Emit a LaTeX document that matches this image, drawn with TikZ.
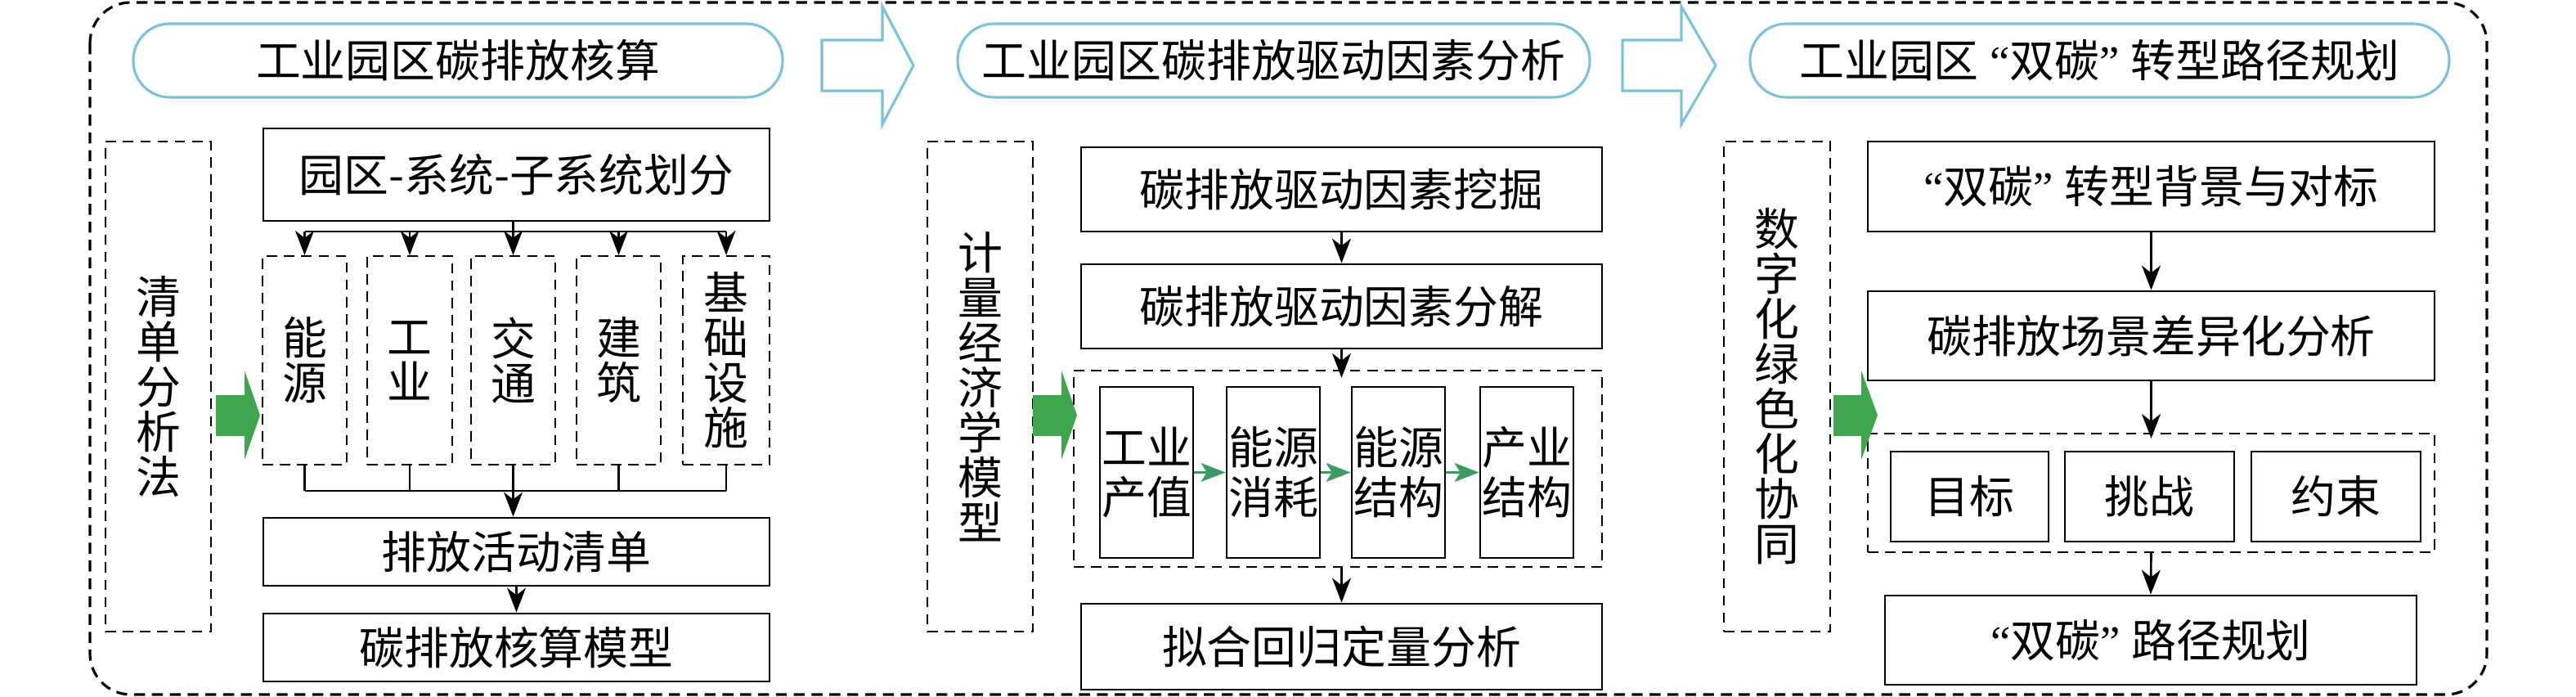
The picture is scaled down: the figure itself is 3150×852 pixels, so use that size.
\documentclass[tikz,border=0pt]{standalone}
\usepackage{fontspec}
\newfontfamily\cjk{Noto Sans CJK SC}
\newfontfamily\lat{Liberation Serif}
\usetikzlibrary{arrows.meta}
\definecolor{pillc}{HTML}{7BC3D9}
\definecolor{gbig}{HTML}{3FA64F}
\definecolor{gsmall}{HTML}{3C9B60}
\newcommand{\myLQ}{{\lat “}}
\newcommand{\myRQ}{{\lat ”\ }}
\begin{document}
\begin{tikzpicture}[x=0.01cm,y=-0.01cm,
 place/.style args={#1/#2/#3/#4}{at={({(#1+#3)/2},{(#2+#4)/2})}, minimum width={(#3-#1)*0.01cm}, minimum height={(#4-#2)*0.01cm}},
 txt/.style={font=\cjk\fontsize{15.6pt}{15.65pt}\selectfont, inner sep=0pt, align=center, text=black},
 two/.style={font=\cjk\fontsize{15.6pt}{17.4pt}\selectfont},
 sbox/.style={txt, draw, line width=0.8pt},
 dbox/.style={txt, draw, line width=0.6pt, dash pattern=on 3.6pt off 2.4pt},
 pill/.style={txt, draw=pillc, line width=0.9pt, rounded corners=12.7pt},
 link/.style={line width=0.75pt},
 arr/.style={line width=0.75pt, -{Stealth[length=8.5pt,width=6.5pt,inset=2.5pt]}},
 gar/.style={draw=gsmall, line width=0.8pt, -{Stealth[length=8.5pt,width=6.5pt,inset=2pt]}},
 hollow/.style={draw=pillc, line width=0.9pt, fill=white, line join=miter},
 bigg/.style={fill=gbig},
]
\useasboundingbox (0,0) rectangle (3150,852);
% outer frame
\draw[line width=0.9pt, dash pattern=on 3.8pt off 2.4pt, rounded corners=14.2pt] (110,3) rectangle (3041,849);

% titles
\node[pill, place=163/29/957/119] (p1) {工业园区碳排放核算};
\node[pill, place=1171/29/1944/119] (p2) {工业园区碳排放驱动因素分析};
\node[pill, place=2140/29/2995/119] (p3) {工业园区{\lat\ }\myLQ 双碳\myRQ 转型路径规划};
\draw[hollow] (1005,49) -- (1079,49) -- (1079,8) -- (1117,80) -- (1079,152) -- (1079,111) -- (1005,111) -- cycle;
\draw[hollow] (1984,49) -- (2056,49) -- (2056,8) -- (2098,80) -- (2056,152) -- (2056,111) -- (1984,111) -- cycle;

% ---------- section 1 ----------
\node[dbox, place=129/173/258/772] (L1) {清\\单\\分\\析\\法};
\node[sbox, place=322/157/941/270] (A1) {园区-系统-子系统划分};
\node[dbox, place=321/313/424/568] (s1) {能\\源};
\node[dbox, place=449/313/553/568] (s2) {工\\业};
\node[dbox, place=576/313/679/568] (s3) {交\\通};
\node[dbox, place=705/313/808/568] (s4) {建\\筑};
\node[dbox, place=835/313/941/568] (s5) {基\\础\\设\\施};
\node[sbox, place=322/633/941/716] (A2) {排放活动清单};
\node[sbox, place=322/750/941/833] (A3) {碳排放核算模型};
\coordinate (bus1) at (627.5,283);
\coordinate (bus2) at (627.5,600);
\draw[link] (bus1 |- A1.south) -- (bus1);
\draw[link] (bus1 -| s1) -- (bus1 -| s5);
\foreach \s in {s1,s2,s3,s4,s5} \draw[arr] (bus1 -| \s) -- (\s.north);
\foreach \s in {s1,s2,s3,s4,s5} \draw[link] (\s.south) -- (bus2 -| \s);
\draw[link] (bus2 -| s1) -- (bus2 -| s5);
\draw[arr] (bus2) -- (bus2 |- A2.north);
\draw[arr] (A2.south) -- (A3.north);
\fill[bigg] (264,483) -- (299,483) -- (299,453) -- (318,507.5) -- (299,562) -- (299,533) -- (264,533) -- cycle;

% ---------- section 2 ----------
\node[dbox, place=1134/173/1263/772] (L2) {计\\量\\经\\济\\学\\模\\型};
\node[sbox, place=1322/180/1959/283] (B1) {碳排放驱动因素挖掘};
\node[sbox, place=1322/323/1959/426] (B2) {碳排放驱动因素分解};
\node[dbox, place=1313/453/1959/693] (D2) {};
\node[sbox, two, place=1345/473/1459/682] (q1) {工业\\产值};
\node[sbox, two, place=1500/473/1614/682] (q2) {能源\\消耗};
\node[sbox, two, place=1653/473/1767/682] (q3) {能源\\结构};
\node[sbox, two, place=1810/473/1924/682] (q4) {产业\\结构};
\node[sbox, place=1322/738/1959/843] (B3) {拟合回归定量分析};
\draw[arr] (B1.south) -- (B2.north);
\draw[arr, shorten >=-2.8pt] (B2.south) -- (B2.south |- D2.north);
\draw[arr] (B2.south |- D2.south) -- (B3.north);
\draw[gar] (q1.east) -- (q2.west);
\draw[gar] (q2.east) -- (q3.west);
\draw[gar] (q3.east) -- (q4.west);
\fill[bigg] (1263,483) -- (1298,483) -- (1298,453) -- (1317,507.5) -- (1298,562) -- (1298,533) -- (1263,533) -- cycle;

% ---------- section 3 ----------
\node[dbox, place=2108/173/2238/772] (L3) {数\\字\\化\\绿\\色\\化\\协\\同};
\node[sbox, place=2284/173/2977/283] (C1) {\myLQ 双碳\myRQ 转型背景与对标};
\node[sbox, place=2284/356/2977/465] (C2) {碳排放场景差异化分析};
\node[dbox, place=2284/530/2977/675] (D3) {};
\node[sbox, place=2312/552/2505/662] (r1) {目标};
\node[sbox, place=2525/552/2732/662] (r2) {挑战};
\node[sbox, place=2753/552/2960/662] (r3) {约束};
\node[sbox, place=2305/728/2955/837] (C3) {\myLQ 双碳\myRQ 路径规划};
\draw[arr] (C1.south) -- (C2.north);
\draw[arr, shorten >=-2pt] (C2.south) -- (D3.north);
\draw[arr] (D3.south) -- (C3.north);
\fill[bigg] (2242,483) -- (2276,483) -- (2276,453) -- (2296,507.5) -- (2276,562) -- (2276,533) -- (2242,533) -- cycle;
\end{tikzpicture}
\end{document}
